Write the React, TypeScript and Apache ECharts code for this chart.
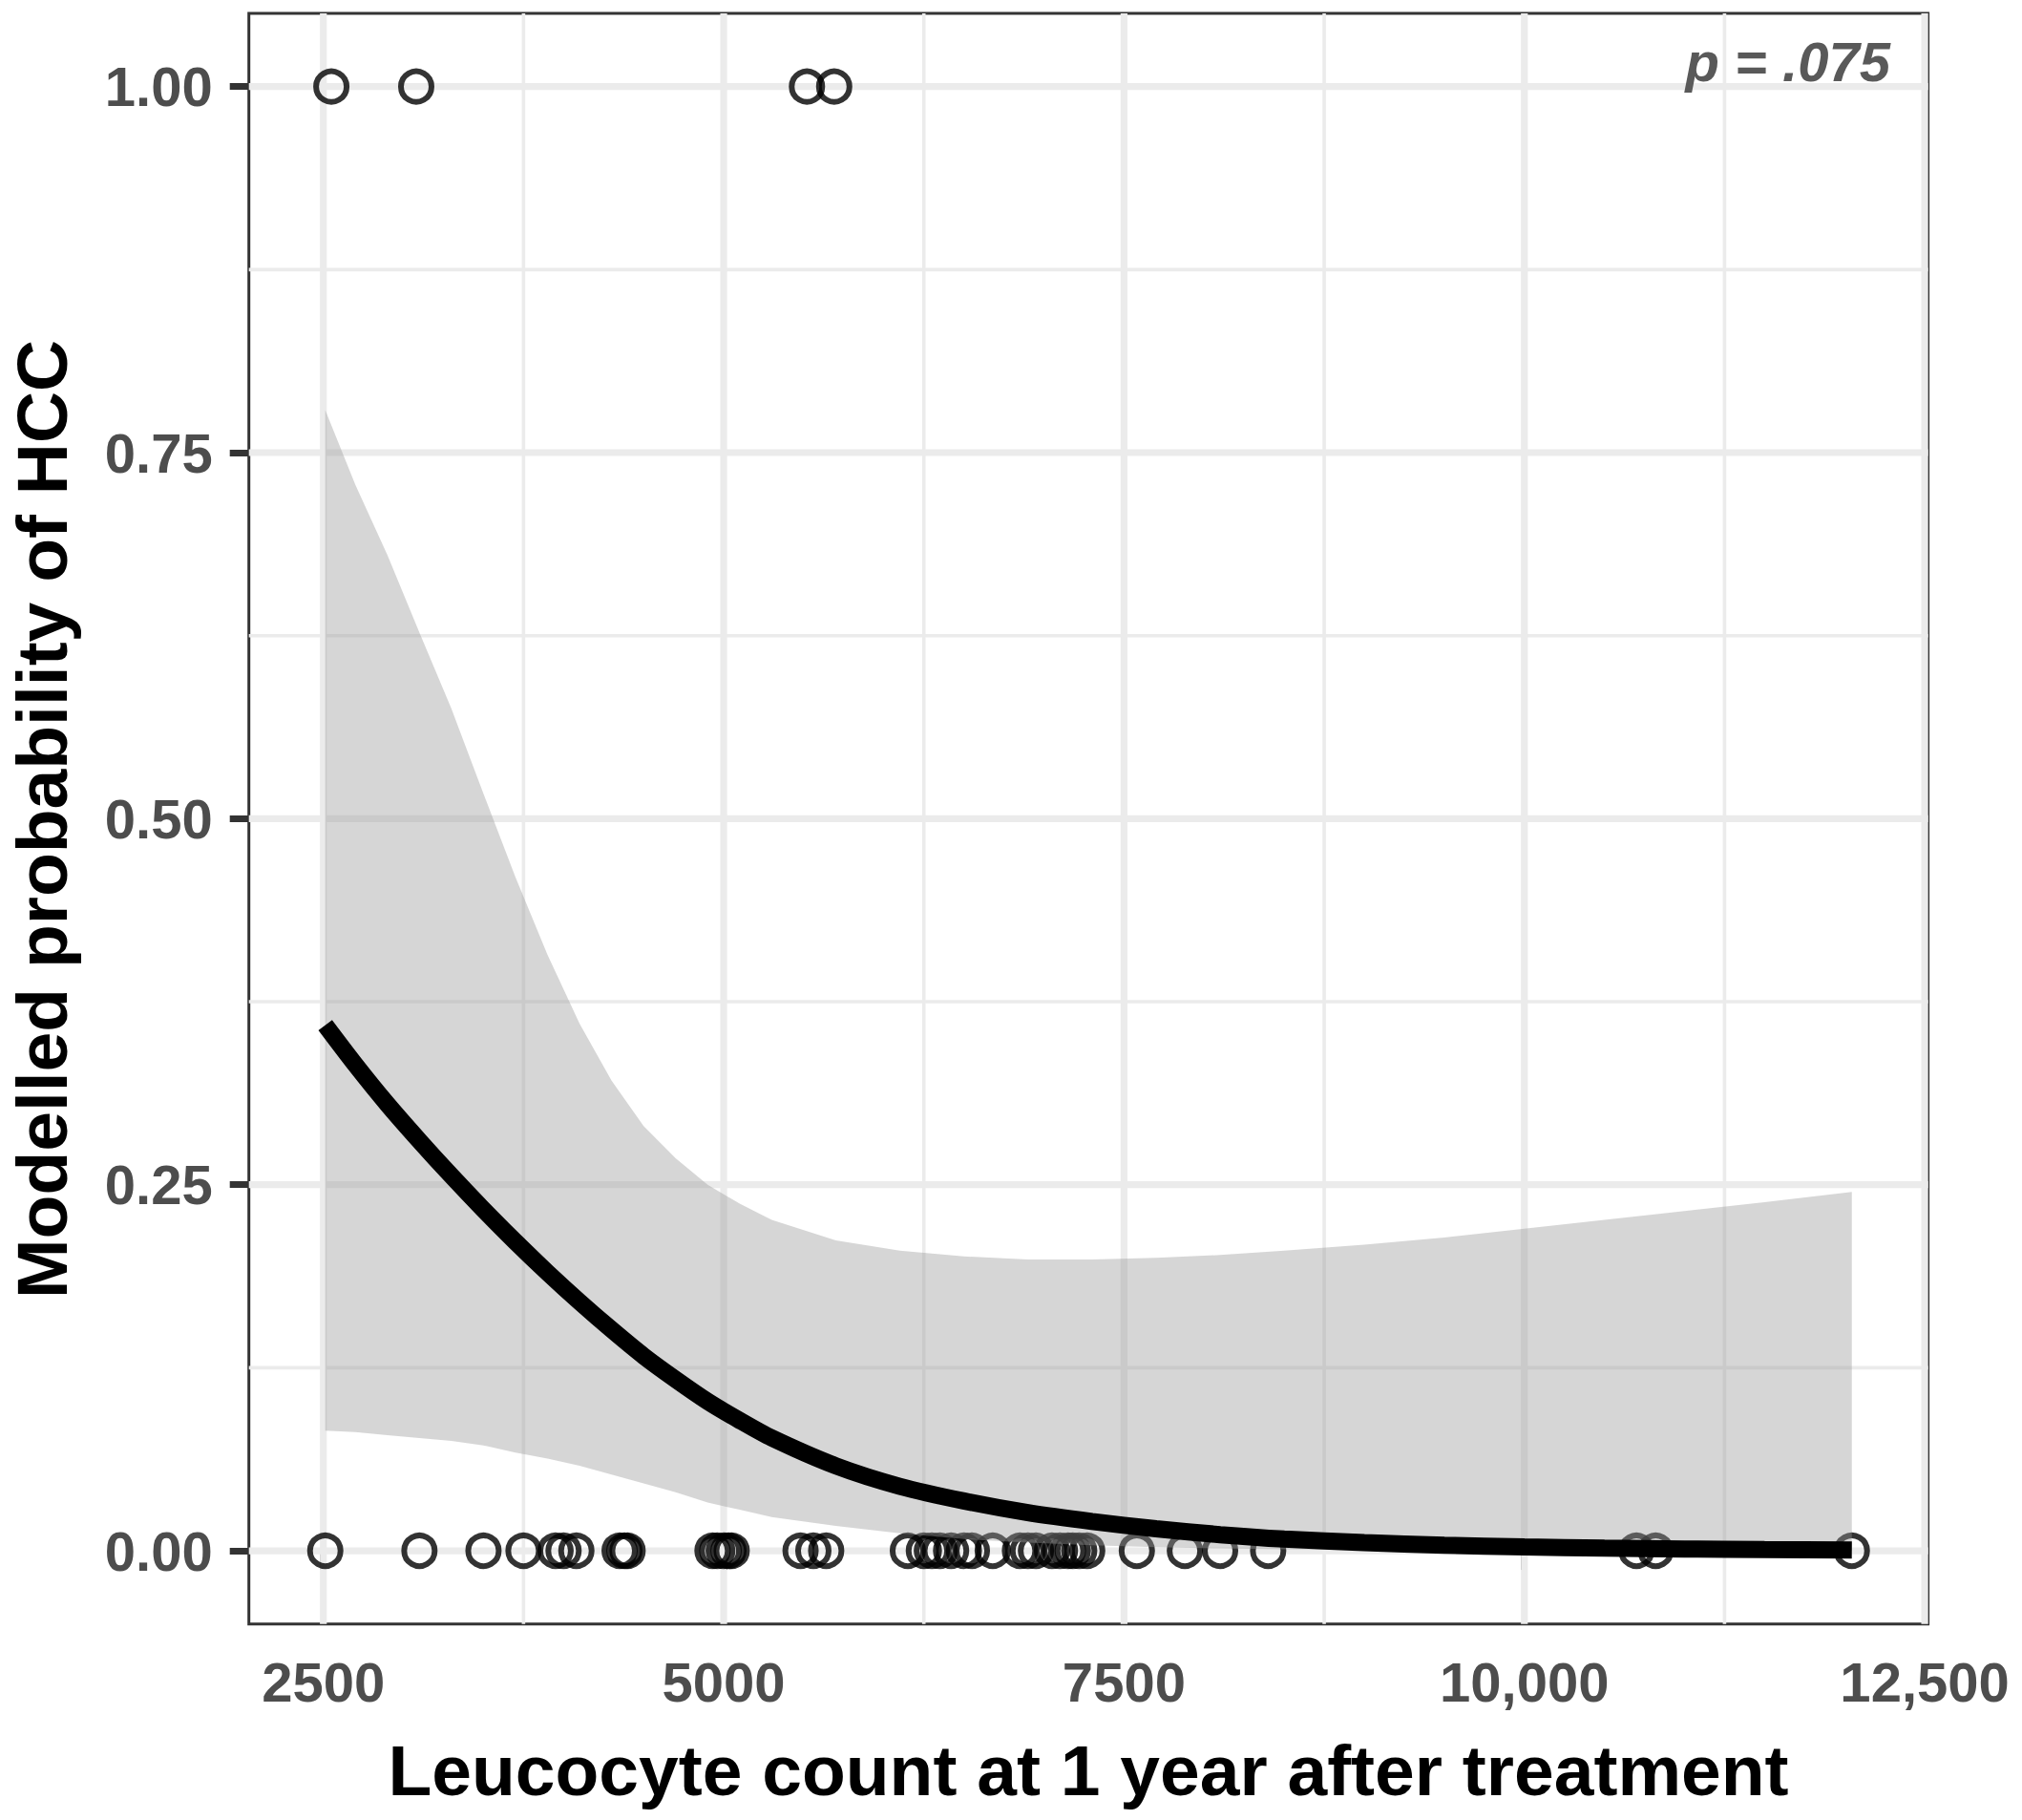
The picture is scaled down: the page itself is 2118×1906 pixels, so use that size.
import React, { useEffect, useRef } from "react";
import * as echarts from "echarts";

// ---- axis limits and ticks ----
const X_MIN = 2035;
const X_MAX = 12521;
const Y_MIN = -0.05;
const Y_MAX = 1.05;
const xMajor = [2500, 5000, 7500, 10000, 12500];
const xMinor = [3750, 6250, 8750, 11250];
const xTickLabels = ["2500", "5000", "7500", "10,000", "12,500"];
const yMajor = [0, 0.25, 0.5, 0.75, 1];
const yMinor = [0.125, 0.375, 0.625, 0.875];
const yTickLabels = ["0.00", "0.25", "0.50", "0.75", "1.00"];

// ---- observed points ----
const obsNoHCC = [
  2512, 3100, 3500, 3750, 3950, 4000, 4080, 4350, 4380, 4400, 4930, 4960, 5000, 5030, 5050,
  5480, 5560, 5640, 6150, 6250, 6300, 6350, 6420, 6500, 6550, 6680, 6850, 6900, 6950, 7050,
  7100, 7150, 7180, 7220, 7270, 7580, 7880, 8100, 8400, 10700, 10820, 12045,
];
const obsHCC = [2550, 3080, 5520, 5690];

// ---- fitted curve and confidence band ----
const fitX = [
  2512, 2700, 2900, 3100, 3300, 3500, 3700, 3900, 4100, 4300, 4500, 4700, 4900, 5100, 5300,
  5700, 6100, 6500, 6900, 7300, 7700, 8100, 8500, 9000, 9500, 10000, 10500, 11000, 11500, 12045,
];
const fitP = [
  0.359, 0.332, 0.305, 0.28, 0.256, 0.233, 0.211, 0.19, 0.17, 0.151, 0.133, 0.117, 0.102, 0.089,
  0.077, 0.058, 0.044, 0.034, 0.026, 0.02, 0.015, 0.011, 0.008, 0.0055, 0.0038, 0.0026, 0.0018,
  0.0012, 0.0008, 0.0005,
];
const bandHi = [
  0.779, 0.728, 0.68, 0.627, 0.575, 0.517, 0.46, 0.407, 0.36, 0.321, 0.29, 0.268, 0.25, 0.237,
  0.226, 0.212, 0.205, 0.201, 0.199, 0.199, 0.2, 0.202, 0.205, 0.209, 0.214, 0.22, 0.226, 0.232,
  0.238, 0.245,
];
const bandLo = [
  0.082, 0.081, 0.079, 0.077, 0.075, 0.072, 0.067, 0.063, 0.058, 0.052, 0.046, 0.04, 0.033, 0.028,
  0.023, 0.017, 0.012, 0.008, 0.0055, 0.0037, 0.0025, 0.0016, 0.001, 0.0006, 0.0004, 0.0002,
  0.0001, 0.0001, 0, 0,
];

const FONT = '"Liberation Sans", Arial, Helvetica, sans-serif';

function gridSeries(values: number[], vertical: boolean, width: number) {
  return values.map((v) => ({
    type: "line",
    data: vertical ? [[v, Y_MIN], [v, Y_MAX]] : [[X_MIN, v], [X_MAX, v]],
    symbol: "none",
    silent: true,
    z: 1,
    lineStyle: { color: "#EBEBEB", width, cap: "butt" },
  }));
}

export default function App() {
  const ref = useRef<HTMLDivElement>(null);
  useEffect(() => {
    const chart = echarts.init(ref.current!, null, { renderer: "svg" });
    const option: any = {
      animation: false,
      backgroundColor: "#FFFFFF",
      grid: {
        left: 260.7,
        right: 98.4,
        top: 14,
        bottom: 205.3,
        show: true,
        borderColor: "#333333",
        borderWidth: 3,
        backgroundColor: "transparent",
        containLabel: false,
        outerBoundsMode: "none",
      },
      xAxis: {
        type: "value",
        min: X_MIN,
        max: X_MAX,
        axisLine: { show: false },
        splitLine: { show: false },
        axisTick: {
          show: true,
          length: 20,
          customValues: xMajor,
          lineStyle: { color: "#333333", width: 7 },
        },
        axisLabel: {
          customValues: xMajor,
          margin: 32,
          color: "#4D4D4D",
          fontSize: 58,
          fontWeight: "bold",
          fontFamily: FONT,
          formatter: (v: number) => xTickLabels[xMajor.indexOf(v)] ?? "",
        },
      },
      yAxis: {
        type: "value",
        min: Y_MIN,
        max: Y_MAX,
        axisLine: { show: false },
        splitLine: { show: false },
        axisTick: {
          show: true,
          length: 20,
          customValues: yMajor,
          lineStyle: { color: "#333333", width: 7 },
        },
        axisLabel: {
          customValues: yMajor,
          margin: 38,
          color: "#4D4D4D",
          fontSize: 58,
          fontWeight: "bold",
          fontFamily: FONT,
          formatter: (v: number) => yTickLabels[yMajor.indexOf(v)] ?? "",
        },
      },
      series: [
        ...gridSeries(xMinor, true, 3.6),
        ...gridSeries(yMinor, false, 3.6),
        ...gridSeries(xMajor, true, 7.2),
        ...gridSeries(yMajor, false, 7.2),
        {
          type: "scatter",
          z: 2,
          silent: true,
          symbol: "circle",
          symbolSize: 32,
          itemStyle: { color: "rgba(0,0,0,0)", borderColor: "#000000", borderWidth: 6 },
          data: [...obsNoHCC.map((x) => [x, 0]), ...obsHCC.map((x) => [x, 1])],
        },
        {
          type: "custom",
          z: 3,
          silent: true,
          data: fitX.map((x, i) => [x, bandLo[i], bandHi[i]]),
          encode: { x: 0, y: [1, 2] },
          renderItem: (params: any, api: any) => {
            if (params.dataIndex !== 0) return null;
            const pts: number[][] = [];
            for (let i = 0; i < fitX.length; i++) pts.push(api.coord([fitX[i], bandHi[i]]));
            for (let i = fitX.length - 1; i >= 0; i--) pts.push(api.coord([fitX[i], bandLo[i]]));
            return {
              type: "polygon",
              shape: { points: pts },
              style: { fill: "rgba(153,153,153,0.4)" },
            };
          },
        },
        {
          type: "line",
          z: 4,
          silent: true,
          symbol: "none",
          smooth: 0.25,
          data: fitX.map((x, i) => [x, fitP[i]]),
          lineStyle: { color: "#000000", width: 18, cap: "butt" },
        },
      ],
      graphic: [
        {
          type: "text",
          x: 1140,
          y: 1854,
          z: 10,
          style: {
            text: "Leucocyte count at 1 year after treatment",
            fill: "#000000",
            fontSize: 75,
            fontWeight: "bold",
            fontFamily: FONT,
            align: "center",
            verticalAlign: "middle",
          },
        },
        {
          type: "text",
          x: 44,
          y: 857.8,
          rotation: Math.PI / 2,
          z: 10,
          style: {
            text: "Modelled probability of HCC",
            fill: "#000000",
            fontSize: 75,
            fontWeight: "bold",
            fontFamily: FONT,
            align: "center",
            verticalAlign: "middle",
          },
        },
        {
          type: "text",
          x: 1980,
          y: 64.9,
          z: 10,
          style: {
            text: "p = .075",
            fill: "#595959",
            fontSize: 58,
            fontWeight: "bold",
            fontStyle: "italic",
            fontFamily: FONT,
            align: "right",
            verticalAlign: "middle",
          },
        },
      ],
    };
    chart.setOption(option);
    return () => chart.dispose();
  }, []);
  return (
    <div
      ref={ref}
      style={{ position: "absolute", left: 0, top: 0, width: 2118, height: 1906 }}
    />
  );
}
